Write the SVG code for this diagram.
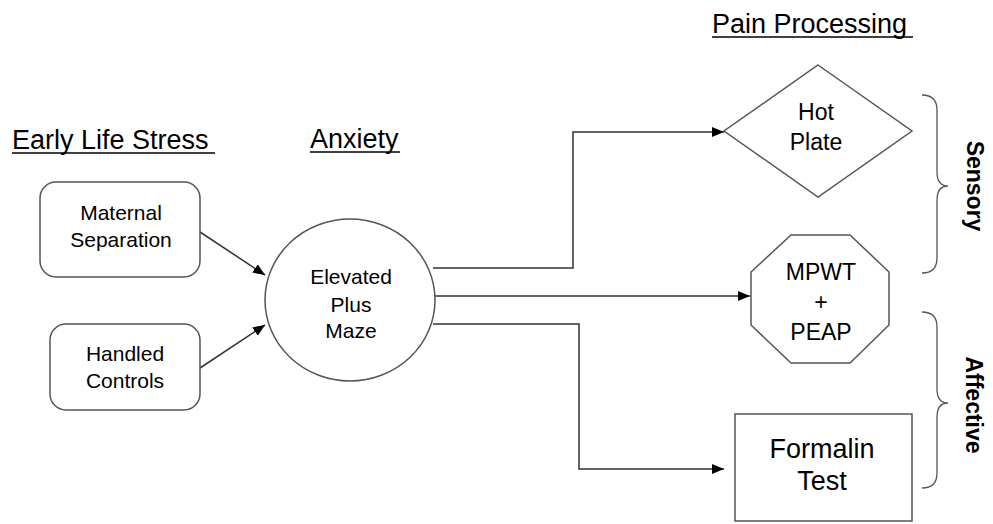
<svg xmlns="http://www.w3.org/2000/svg" width="993" height="524" viewBox="0 0 993 524">
<style>
text{font-family:"Liberation Sans",Arial,sans-serif;fill:#000;}
.hdr{font-size:27px;}
.t20{font-size:21px;text-anchor:middle;}
.t22{font-size:23px;text-anchor:middle;}
.t26{font-size:27px;text-anchor:middle;}
.lbl{font-size:23px;font-weight:bold;text-anchor:middle;}
.shape{fill:#fff;stroke:#555;stroke-width:1.5;}
.conn{fill:none;stroke:#333;stroke-width:1.5;}
.ul{stroke:#000;stroke-width:1.5;}
.brace{fill:none;stroke:#555;stroke-width:1.3;}
</style>
<defs>
<marker id="arr" viewBox="0 0 12 10" refX="12" refY="5" markerWidth="12" markerHeight="10" markerUnits="userSpaceOnUse" orient="auto">
<path d="M0,0 L12,5 L0,10 Z" fill="#000"/>
</marker>
</defs>
<rect width="993" height="524" fill="#fff"/>
<g id="headers">
<text class="hdr" x="12" y="149">Early Life Stress</text>
<line class="ul" x1="12" y1="153" x2="215" y2="153"/>
<text class="hdr" x="310" y="148">Anxiety</text>
<line class="ul" x1="310" y1="152" x2="400" y2="152"/>
<text class="hdr" x="712" y="33">Pain Processing</text>
<line class="ul" x1="712" y1="37" x2="913" y2="37"/>
</g>
<g id="connectors">
<line class="conn" x1="200" y1="232" x2="265" y2="275" marker-end="url(#arr)"/>
<line class="conn" x1="200" y1="368" x2="265" y2="325" marker-end="url(#arr)"/>
<polyline class="conn" points="433,268 573,268 573,132 724,132" marker-end="url(#arr)"/>
<line class="conn" x1="435" y1="296" x2="750" y2="296" marker-end="url(#arr)"/>
<polyline class="conn" points="433,324 579,324 579,469 724,469" marker-end="url(#arr)"/>
</g>
<g id="maternal-separation">
<rect class="shape" x="40" y="182" width="160" height="95" rx="16"/>
<text class="t20" x="121" y="220">Maternal</text>
<text class="t20" x="121" y="247">Separation</text>
</g>
<g id="handled-controls">
<rect class="shape" x="50" y="324" width="150" height="86" rx="16"/>
<text class="t20" x="125" y="361">Handled</text>
<text class="t20" x="125" y="388">Controls</text>
</g>
<g id="elevated-plus-maze">
<ellipse class="shape" cx="350" cy="300" rx="85" ry="81"/>
<text class="t20" x="351" y="284">Elevated</text>
<text class="t20" x="351" y="312">Plus</text>
<text class="t20" x="351" y="338">Maze</text>
</g>
<g id="hot-plate">
<polygon class="shape" points="818,65 912,131 818,197 724,131"/>
<text class="t22" x="816" y="120">Hot</text>
<text class="t22" x="816" y="150">Plate</text>
</g>
<g id="mpwt-peap">
<polygon class="shape" points="791,235 850,235 889,272 889,325 850,363 791,363 751,325 751,272"/>
<text class="t22" x="821" y="280">MPWT</text>
<text class="t22" x="821" y="310">+</text>
<text class="t22" x="821" y="340">PEAP</text>
</g>
<g id="formalin-test">
<rect class="shape" x="735" y="414" width="177" height="107"/>
<text class="t26" x="822" y="458">Formalin</text>
<text class="t26" x="822" y="490">Test</text>
</g>
<g id="sensory">
<path class="brace" d="M922,95 Q937,95 937,110 L937,172 Q937,186 948,186 Q937,186 937,200 L937,258 Q937,273 922,273"/>
<text class="lbl" transform="translate(967,186) rotate(90)">Sensory</text>
</g>
<g id="affective">
<path class="brace" d="M922,312 Q937,312 937,327 L937,389 Q937,403 948,403 Q937,403 937,417 L937,473 Q937,488 922,488"/>
<text class="lbl" transform="translate(966,405) rotate(90)">Affective</text>
</g>
</svg>
